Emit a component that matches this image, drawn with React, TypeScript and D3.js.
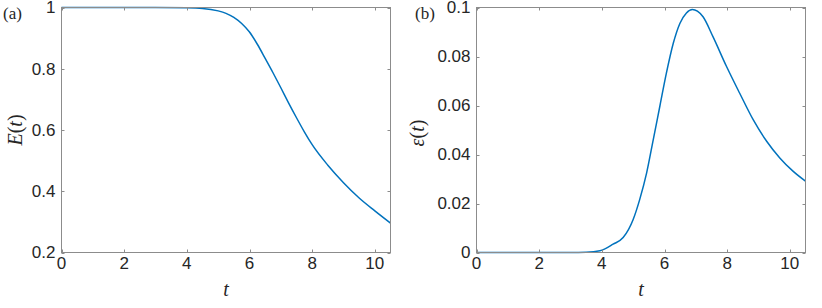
import React, { useEffect, useRef } from "react";
import * as d3 from "d3";

// panel (a): E(t)
const tE = [0, 1, 2, 3, 4, 4.5, 5, 5.25, 5.5, 5.75, 6, 6.25, 6.5, 6.75, 7, 7.25, 7.5, 7.75, 8, 8.5, 9, 9.5, 10, 10.5];
const valE = [1, 1, 1, 1, 0.999, 0.997, 0.989, 0.981, 0.968, 0.948, 0.92, 0.88, 0.834, 0.787, 0.738, 0.688, 0.64, 0.594, 0.552, 0.485, 0.428, 0.378, 0.336, 0.296];

// panel (b): epsilon(t)
const tEps = [0, 1, 2, 3, 3.5, 3.94, 4.36, 4.68, 5.0, 5.21, 5.43, 5.64, 5.85, 6.06, 6.28, 6.49, 6.7, 6.89, 7.05, 7.23, 7.55, 7.98, 8.4, 8.83, 9.26, 9.68, 10.1, 10.5];
const valEps = [0, 0, 0, 0, 0.0001, 0.0007, 0.0034, 0.0061, 0.0135, 0.0217, 0.0325, 0.046, 0.0596, 0.0732, 0.0854, 0.0935, 0.0978, 0.0992, 0.0985, 0.0962, 0.088, 0.0759, 0.065, 0.0542, 0.0454, 0.0386, 0.0332, 0.0291];

const xTicks = [0, 2, 4, 6, 8, 10];
const eTicks = [0.2, 0.4, 0.6, 0.8, 1];
const epsTicks = [0, 0.02, 0.04, 0.06, 0.08, 0.1];

const TXT = "#262626";
const AX = "#8c8c8c";
const LINE = "#0072BD";
const SANS = "'Liberation Sans', Arial, Helvetica, sans-serif";
const SERIF = "'Liberation Serif', 'DejaVu Serif', serif";

const Panel = ({ x0, x1, y0, y1, ts, vs, yDomain, yTicks, ylabel, ylabelX, ylabelY, tag, tagX }) => {
	const gRef = useRef(null);

	useEffect(() => {
		const g = d3.select(gRef.current);
		g.selectAll("*").remove();

		const x = d3.scaleLinear().domain([0, 10.5]).range([x0, x1]);
		const y = d3.scaleLinear().domain(yDomain).range([y1, y0]);

		// line
		const line = d3
			.line()
			.x((d) => x(d[0]))
			.y((d) => y(d[1]))
			.curve(d3.curveMonotoneX);
		g.append("path")
			.datum(ts.map((t, i) => [t, vs[i]]))
			.attr("d", line)
			.attr("fill", "none")
			.attr("stroke", LINE)
			.attr("stroke-width", 1.5);

		// box
		g.append("rect")
			.attr("x", x0)
			.attr("y", y0)
			.attr("width", x1 - x0)
			.attr("height", y1 - y0)
			.attr("fill", "none")
			.attr("stroke", AX)
			.attr("stroke-width", 1);

		// inward ticks on all four sides
		const tl = 3;
		xTicks.forEach((t) => {
			const px = Math.round(x(t)) + 0.5;
			g.append("line").attr("x1", px).attr("x2", px).attr("y1", y1).attr("y2", y1 - tl).attr("stroke", AX);
			g.append("line").attr("x1", px).attr("x2", px).attr("y1", y0).attr("y2", y0 + tl).attr("stroke", AX);
			g.append("text")
				.attr("x", x(t))
				.attr("y", y1 + 16)
				.attr("text-anchor", "middle")
				.attr("font-family", SANS)
				.attr("font-size", 17)
				.attr("fill", TXT)
				.text(t);
		});
		yTicks.forEach((t) => {
			const py = Math.round(y(t)) + 0.5;
			g.append("line").attr("x1", x0).attr("x2", x0 + tl).attr("y1", py).attr("y2", py).attr("stroke", AX);
			g.append("line").attr("x1", x1).attr("x2", x1 - tl).attr("y1", py).attr("y2", py).attr("stroke", AX);
			g.append("text")
				.attr("x", x0 - 6)
				.attr("y", y(t))
				.attr("dy", "0.35em")
				.attr("text-anchor", "end")
				.attr("font-family", SANS)
				.attr("font-size", 17)
				.attr("fill", TXT)
				.text(t);
		});

		// axis labels
		g.append("text")
			.attr("x", (x0 + x1) / 2)
			.attr("y", 296)
			.attr("text-anchor", "middle")
			.attr("font-family", SERIF)
			.attr("font-style", "italic")
			.attr("font-size", 20)
			.attr("fill", TXT)
			.text("t");

		const yl = g.append("text")
			.attr("transform", `translate(${ylabelX},${ylabelY}) rotate(-90)`)
			.attr("text-anchor", "middle")
			.attr("font-family", SERIF)
			.attr("font-size", 20)
			.attr("fill", TXT);
		yl.append("tspan").attr("font-style", "italic").text(ylabel);
		yl.append("tspan").text("(");
		yl.append("tspan").attr("font-style", "italic").text("t");
		yl.append("tspan").text(")");

		g.append("text")
			.attr("x", tagX)
			.attr("y", 19)
			.attr("font-family", SERIF)
			.attr("font-size", 17)
			.attr("fill", TXT)
			.text(tag);
	}, []);

	return <g ref={gRef}></g>;
};

export default function App() {
	return (
		<svg
			width="822"
			height="308"
			style={{ position: "absolute", left: 0, top: 0, background: "#fff" }}
		>
			<Panel
				x0={61.5}
				x1={390.5}
				y0={7.5}
				y1={252.5}
				ts={tE}
				vs={valE}
				yDomain={[0.2, 1]}
				yTicks={eTicks}
				ylabel="E"
				ylabelX={22}
				ylabelY={130}
				tag="(a)"
				tagX={3}
			/>
			<Panel
				x0={476.5}
				x1={805.5}
				y0={7.5}
				y1={252.5}
				ts={tEps}
				vs={valEps}
				yDomain={[0, 0.1]}
				yTicks={epsTicks}
				ylabel="ε"
				ylabelX={424}
				ylabelY={133}
				tag="(b)"
				tagX={415}
			/>
		</svg>
	);
}
